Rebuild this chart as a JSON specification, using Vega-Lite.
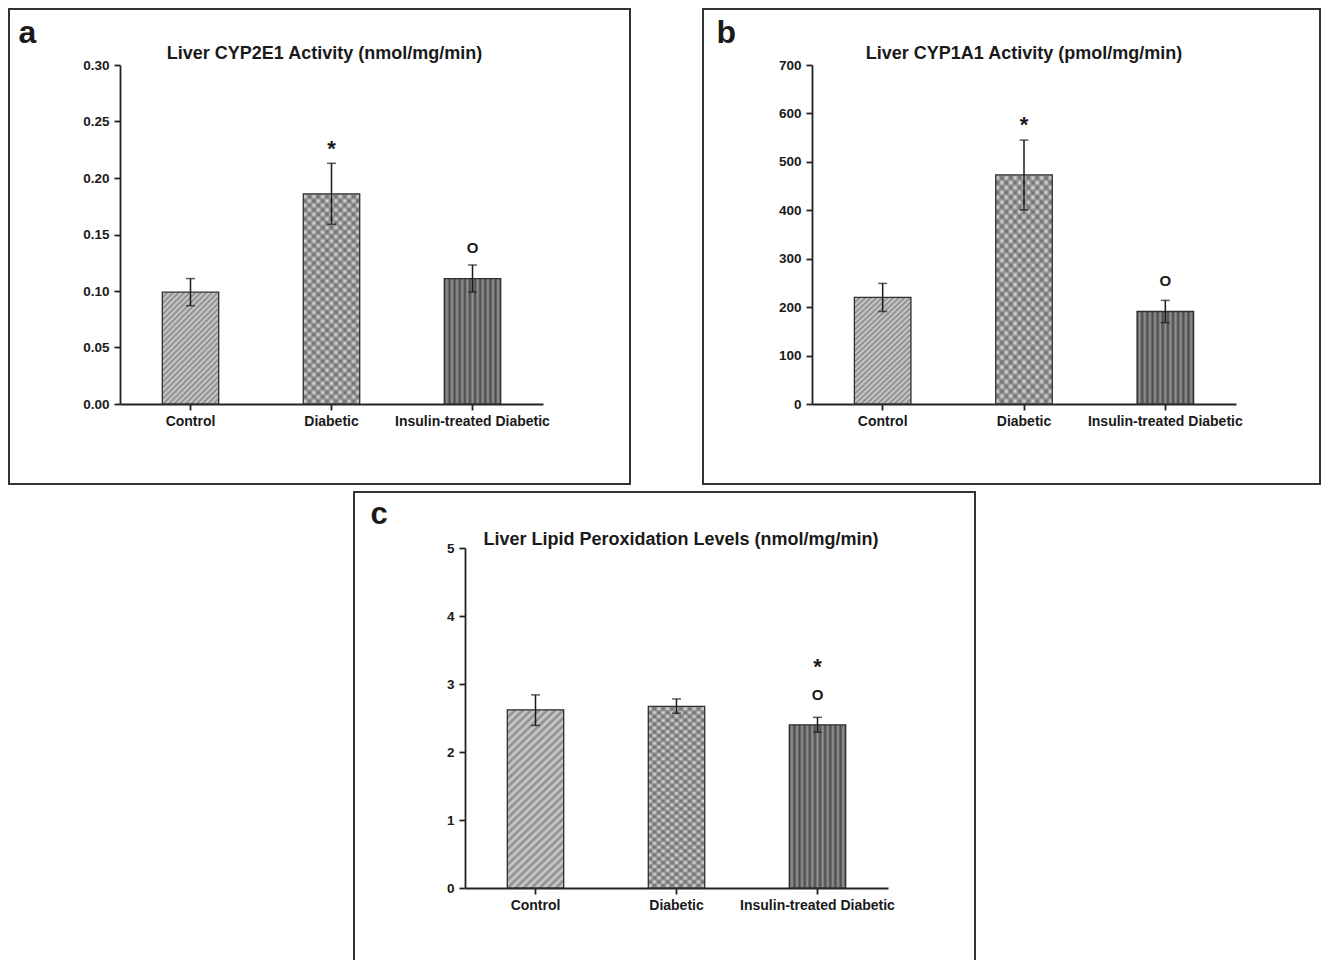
{
  "$schema": "https://vega.github.io/schema/vega-lite/v6.json",
  "background": "white",
  "padding": {"left": 8, "top": 8, "right": 0, "bottom": 0},
  "datasets": {
    "a": [
      {"group": "Control", "mean": 0.099, "lo": 0.087, "hi": 0.111},
      {"group": "Diabetic", "mean": 0.186, "lo": 0.159, "hi": 0.213},
      {"group": "Insulin-treated Diabetic", "mean": 0.111, "lo": 0.099, "hi": 0.123}
    ],
    "a_ann": [
      {"group": "Diabetic", "sym": "*", "pos": 0.228},
      {"group": "Insulin-treated Diabetic", "sym": "O", "pos": 0.139}
    ],
    "b": [
      {"group": "Control", "mean": 220, "lo": 191, "hi": 249},
      {"group": "Diabetic", "mean": 473, "lo": 401, "hi": 545},
      {"group": "Insulin-treated Diabetic", "mean": 191, "lo": 168, "hi": 214}
    ],
    "b_ann": [
      {"group": "Diabetic", "sym": "*", "pos": 583},
      {"group": "Insulin-treated Diabetic", "sym": "O", "pos": 256}
    ],
    "c": [
      {"group": "Control", "mean": 2.62, "lo": 2.39, "hi": 2.84},
      {"group": "Diabetic", "mean": 2.67, "lo": 2.57, "hi": 2.78},
      {"group": "Insulin-treated Diabetic", "mean": 2.40, "lo": 2.29, "hi": 2.51}
    ],
    "c_ann": [
      {"group": "Insulin-treated Diabetic", "sym": "*", "pos": 3.30},
      {"group": "Insulin-treated Diabetic", "sym": "O", "pos": 2.85}
    ]
  },
  "config": {
    "font": "Liberation Sans",
    "view": {"stroke": "#333333", "strokeWidth": 2},
    "axis": {"grid": false, "domainColor": "#222222", "domainWidth": 1.8, "tickColor": "#222222", "tickWidth": 1.8, "tickSize": 6, "labelFont": "Liberation Sans", "labelFontWeight": "bold", "labelColor": "#1a1a1a"},
    "title": {"font": "Liberation Sans", "fontWeight": "bold", "fontSize": 18, "color": "#1a1a1a", "baseline": "middle"},
    "style": {
      "ctrlAB": {"color": {"gradient": "linear", "x1": 0, "y1": 0, "x2": 0.61, "y2": 1.2, "stops": [{"offset":0,"color":"#888888"},{"offset":0.0167,"color":"#d0d0d0"},{"offset":0.0333,"color":"#888888"},{"offset":0.05,"color":"#d0d0d0"},{"offset":0.0667,"color":"#888888"},{"offset":0.0833,"color":"#d0d0d0"},{"offset":0.1,"color":"#888888"},{"offset":0.1167,"color":"#d0d0d0"},{"offset":0.1333,"color":"#888888"},{"offset":0.15,"color":"#d0d0d0"},{"offset":0.1667,"color":"#888888"},{"offset":0.1833,"color":"#d0d0d0"},{"offset":0.2,"color":"#888888"},{"offset":0.2167,"color":"#d0d0d0"},{"offset":0.2333,"color":"#888888"},{"offset":0.25,"color":"#d0d0d0"},{"offset":0.2667,"color":"#888888"},{"offset":0.2833,"color":"#d0d0d0"},{"offset":0.3,"color":"#888888"},{"offset":0.3167,"color":"#d0d0d0"},{"offset":0.3333,"color":"#888888"},{"offset":0.35,"color":"#d0d0d0"},{"offset":0.3667,"color":"#888888"},{"offset":0.3833,"color":"#d0d0d0"},{"offset":0.4,"color":"#888888"},{"offset":0.4167,"color":"#d0d0d0"},{"offset":0.4333,"color":"#888888"},{"offset":0.45,"color":"#d0d0d0"},{"offset":0.4667,"color":"#888888"},{"offset":0.4833,"color":"#d0d0d0"},{"offset":0.5,"color":"#888888"},{"offset":0.5167,"color":"#d0d0d0"},{"offset":0.5333,"color":"#888888"},{"offset":0.55,"color":"#d0d0d0"},{"offset":0.5667,"color":"#888888"},{"offset":0.5833,"color":"#d0d0d0"},{"offset":0.6,"color":"#888888"},{"offset":0.6167,"color":"#d0d0d0"},{"offset":0.6333,"color":"#888888"},{"offset":0.65,"color":"#d0d0d0"},{"offset":0.6667,"color":"#888888"},{"offset":0.6833,"color":"#d0d0d0"},{"offset":0.7,"color":"#888888"},{"offset":0.7167,"color":"#d0d0d0"},{"offset":0.7333,"color":"#888888"},{"offset":0.75,"color":"#d0d0d0"},{"offset":0.7667,"color":"#888888"},{"offset":0.7833,"color":"#d0d0d0"},{"offset":0.8,"color":"#888888"},{"offset":0.8167,"color":"#d0d0d0"},{"offset":0.8333,"color":"#888888"},{"offset":0.85,"color":"#d0d0d0"},{"offset":0.8667,"color":"#888888"},{"offset":0.8833,"color":"#d0d0d0"},{"offset":0.9,"color":"#888888"},{"offset":0.9167,"color":"#d0d0d0"},{"offset":0.9333,"color":"#888888"},{"offset":0.95,"color":"#d0d0d0"},{"offset":0.9667,"color":"#888888"},{"offset":0.9833,"color":"#d0d0d0"},{"offset":1,"color":"#888888"}]}},
      "ctrlC": {"color": {"gradient": "linear", "x1": 0, "y1": 0, "x2": 0.364, "y2": 1.194, "stops": [{"offset":0,"color":"#888888"},{"offset":0.0167,"color":"#d0d0d0"},{"offset":0.0333,"color":"#888888"},{"offset":0.05,"color":"#d0d0d0"},{"offset":0.0667,"color":"#888888"},{"offset":0.0833,"color":"#d0d0d0"},{"offset":0.1,"color":"#888888"},{"offset":0.1167,"color":"#d0d0d0"},{"offset":0.1333,"color":"#888888"},{"offset":0.15,"color":"#d0d0d0"},{"offset":0.1667,"color":"#888888"},{"offset":0.1833,"color":"#d0d0d0"},{"offset":0.2,"color":"#888888"},{"offset":0.2167,"color":"#d0d0d0"},{"offset":0.2333,"color":"#888888"},{"offset":0.25,"color":"#d0d0d0"},{"offset":0.2667,"color":"#888888"},{"offset":0.2833,"color":"#d0d0d0"},{"offset":0.3,"color":"#888888"},{"offset":0.3167,"color":"#d0d0d0"},{"offset":0.3333,"color":"#888888"},{"offset":0.35,"color":"#d0d0d0"},{"offset":0.3667,"color":"#888888"},{"offset":0.3833,"color":"#d0d0d0"},{"offset":0.4,"color":"#888888"},{"offset":0.4167,"color":"#d0d0d0"},{"offset":0.4333,"color":"#888888"},{"offset":0.45,"color":"#d0d0d0"},{"offset":0.4667,"color":"#888888"},{"offset":0.4833,"color":"#d0d0d0"},{"offset":0.5,"color":"#888888"},{"offset":0.5167,"color":"#d0d0d0"},{"offset":0.5333,"color":"#888888"},{"offset":0.55,"color":"#d0d0d0"},{"offset":0.5667,"color":"#888888"},{"offset":0.5833,"color":"#d0d0d0"},{"offset":0.6,"color":"#888888"},{"offset":0.6167,"color":"#d0d0d0"},{"offset":0.6333,"color":"#888888"},{"offset":0.65,"color":"#d0d0d0"},{"offset":0.6667,"color":"#888888"},{"offset":0.6833,"color":"#d0d0d0"},{"offset":0.7,"color":"#888888"},{"offset":0.7167,"color":"#d0d0d0"},{"offset":0.7333,"color":"#888888"},{"offset":0.75,"color":"#d0d0d0"},{"offset":0.7667,"color":"#888888"},{"offset":0.7833,"color":"#d0d0d0"},{"offset":0.8,"color":"#888888"},{"offset":0.8167,"color":"#d0d0d0"},{"offset":0.8333,"color":"#888888"},{"offset":0.85,"color":"#d0d0d0"},{"offset":0.8667,"color":"#888888"},{"offset":0.8833,"color":"#d0d0d0"},{"offset":0.9,"color":"#888888"},{"offset":0.9167,"color":"#d0d0d0"},{"offset":0.9333,"color":"#888888"},{"offset":0.95,"color":"#d0d0d0"},{"offset":0.9667,"color":"#888888"},{"offset":0.9833,"color":"#d0d0d0"},{"offset":1,"color":"#888888"}]}},
      "diabBase": {"color": {"gradient": "linear", "x1": 0, "y1": 0, "x2": 0.321, "y2": 1.184, "stops": [{"offset":0,"color":"#909090"},{"offset":0.0167,"color":"#e4e4e4"},{"offset":0.0333,"color":"#909090"},{"offset":0.05,"color":"#e4e4e4"},{"offset":0.0667,"color":"#909090"},{"offset":0.0833,"color":"#e4e4e4"},{"offset":0.1,"color":"#909090"},{"offset":0.1167,"color":"#e4e4e4"},{"offset":0.1333,"color":"#909090"},{"offset":0.15,"color":"#e4e4e4"},{"offset":0.1667,"color":"#909090"},{"offset":0.1833,"color":"#e4e4e4"},{"offset":0.2,"color":"#909090"},{"offset":0.2167,"color":"#e4e4e4"},{"offset":0.2333,"color":"#909090"},{"offset":0.25,"color":"#e4e4e4"},{"offset":0.2667,"color":"#909090"},{"offset":0.2833,"color":"#e4e4e4"},{"offset":0.3,"color":"#909090"},{"offset":0.3167,"color":"#e4e4e4"},{"offset":0.3333,"color":"#909090"},{"offset":0.35,"color":"#e4e4e4"},{"offset":0.3667,"color":"#909090"},{"offset":0.3833,"color":"#e4e4e4"},{"offset":0.4,"color":"#909090"},{"offset":0.4167,"color":"#e4e4e4"},{"offset":0.4333,"color":"#909090"},{"offset":0.45,"color":"#e4e4e4"},{"offset":0.4667,"color":"#909090"},{"offset":0.4833,"color":"#e4e4e4"},{"offset":0.5,"color":"#909090"},{"offset":0.5167,"color":"#e4e4e4"},{"offset":0.5333,"color":"#909090"},{"offset":0.55,"color":"#e4e4e4"},{"offset":0.5667,"color":"#909090"},{"offset":0.5833,"color":"#e4e4e4"},{"offset":0.6,"color":"#909090"},{"offset":0.6167,"color":"#e4e4e4"},{"offset":0.6333,"color":"#909090"},{"offset":0.65,"color":"#e4e4e4"},{"offset":0.6667,"color":"#909090"},{"offset":0.6833,"color":"#e4e4e4"},{"offset":0.7,"color":"#909090"},{"offset":0.7167,"color":"#e4e4e4"},{"offset":0.7333,"color":"#909090"},{"offset":0.75,"color":"#e4e4e4"},{"offset":0.7667,"color":"#909090"},{"offset":0.7833,"color":"#e4e4e4"},{"offset":0.8,"color":"#909090"},{"offset":0.8167,"color":"#e4e4e4"},{"offset":0.8333,"color":"#909090"},{"offset":0.85,"color":"#e4e4e4"},{"offset":0.8667,"color":"#909090"},{"offset":0.8833,"color":"#e4e4e4"},{"offset":0.9,"color":"#909090"},{"offset":0.9167,"color":"#e4e4e4"},{"offset":0.9333,"color":"#909090"},{"offset":0.95,"color":"#e4e4e4"},{"offset":0.9667,"color":"#909090"},{"offset":0.9833,"color":"#e4e4e4"},{"offset":1,"color":"#909090"}]}},
      "diabOver": {"color": {"gradient": "linear", "x1": 0, "y1": 1, "x2": 0.321, "y2": -0.184, "stops": [{"offset":0,"color":"rgba(70,70,70,0.55)"},{"offset":0.0167,"color":"rgba(70,70,70,0)"},{"offset":0.0333,"color":"rgba(70,70,70,0.55)"},{"offset":0.05,"color":"rgba(70,70,70,0)"},{"offset":0.0667,"color":"rgba(70,70,70,0.55)"},{"offset":0.0833,"color":"rgba(70,70,70,0)"},{"offset":0.1,"color":"rgba(70,70,70,0.55)"},{"offset":0.1167,"color":"rgba(70,70,70,0)"},{"offset":0.1333,"color":"rgba(70,70,70,0.55)"},{"offset":0.15,"color":"rgba(70,70,70,0)"},{"offset":0.1667,"color":"rgba(70,70,70,0.55)"},{"offset":0.1833,"color":"rgba(70,70,70,0)"},{"offset":0.2,"color":"rgba(70,70,70,0.55)"},{"offset":0.2167,"color":"rgba(70,70,70,0)"},{"offset":0.2333,"color":"rgba(70,70,70,0.55)"},{"offset":0.25,"color":"rgba(70,70,70,0)"},{"offset":0.2667,"color":"rgba(70,70,70,0.55)"},{"offset":0.2833,"color":"rgba(70,70,70,0)"},{"offset":0.3,"color":"rgba(70,70,70,0.55)"},{"offset":0.3167,"color":"rgba(70,70,70,0)"},{"offset":0.3333,"color":"rgba(70,70,70,0.55)"},{"offset":0.35,"color":"rgba(70,70,70,0)"},{"offset":0.3667,"color":"rgba(70,70,70,0.55)"},{"offset":0.3833,"color":"rgba(70,70,70,0)"},{"offset":0.4,"color":"rgba(70,70,70,0.55)"},{"offset":0.4167,"color":"rgba(70,70,70,0)"},{"offset":0.4333,"color":"rgba(70,70,70,0.55)"},{"offset":0.45,"color":"rgba(70,70,70,0)"},{"offset":0.4667,"color":"rgba(70,70,70,0.55)"},{"offset":0.4833,"color":"rgba(70,70,70,0)"},{"offset":0.5,"color":"rgba(70,70,70,0.55)"},{"offset":0.5167,"color":"rgba(70,70,70,0)"},{"offset":0.5333,"color":"rgba(70,70,70,0.55)"},{"offset":0.55,"color":"rgba(70,70,70,0)"},{"offset":0.5667,"color":"rgba(70,70,70,0.55)"},{"offset":0.5833,"color":"rgba(70,70,70,0)"},{"offset":0.6,"color":"rgba(70,70,70,0.55)"},{"offset":0.6167,"color":"rgba(70,70,70,0)"},{"offset":0.6333,"color":"rgba(70,70,70,0.55)"},{"offset":0.65,"color":"rgba(70,70,70,0)"},{"offset":0.6667,"color":"rgba(70,70,70,0.55)"},{"offset":0.6833,"color":"rgba(70,70,70,0)"},{"offset":0.7,"color":"rgba(70,70,70,0.55)"},{"offset":0.7167,"color":"rgba(70,70,70,0)"},{"offset":0.7333,"color":"rgba(70,70,70,0.55)"},{"offset":0.75,"color":"rgba(70,70,70,0)"},{"offset":0.7667,"color":"rgba(70,70,70,0.55)"},{"offset":0.7833,"color":"rgba(70,70,70,0)"},{"offset":0.8,"color":"rgba(70,70,70,0.55)"},{"offset":0.8167,"color":"rgba(70,70,70,0)"},{"offset":0.8333,"color":"rgba(70,70,70,0.55)"},{"offset":0.85,"color":"rgba(70,70,70,0)"},{"offset":0.8667,"color":"rgba(70,70,70,0.55)"},{"offset":0.8833,"color":"rgba(70,70,70,0)"},{"offset":0.9,"color":"rgba(70,70,70,0.55)"},{"offset":0.9167,"color":"rgba(70,70,70,0)"},{"offset":0.9333,"color":"rgba(70,70,70,0.55)"},{"offset":0.95,"color":"rgba(70,70,70,0)"},{"offset":0.9667,"color":"rgba(70,70,70,0.55)"},{"offset":0.9833,"color":"rgba(70,70,70,0)"},{"offset":1,"color":"rgba(70,70,70,0.55)"}]}},
      "ins": {"color": {"gradient": "linear", "x1": 0, "y1": 0, "x2": 1, "y2": 0, "stops": [{"offset":0,"color":"#4a4a4a"},{"offset":0.0455,"color":"#939393"},{"offset":0.0909,"color":"#4a4a4a"},{"offset":0.1364,"color":"#939393"},{"offset":0.1818,"color":"#4a4a4a"},{"offset":0.2273,"color":"#939393"},{"offset":0.2727,"color":"#4a4a4a"},{"offset":0.3182,"color":"#939393"},{"offset":0.3636,"color":"#4a4a4a"},{"offset":0.4091,"color":"#939393"},{"offset":0.4545,"color":"#4a4a4a"},{"offset":0.5,"color":"#939393"},{"offset":0.5455,"color":"#4a4a4a"},{"offset":0.5909,"color":"#939393"},{"offset":0.6364,"color":"#4a4a4a"},{"offset":0.6818,"color":"#939393"},{"offset":0.7273,"color":"#4a4a4a"},{"offset":0.7727,"color":"#939393"},{"offset":0.8182,"color":"#4a4a4a"},{"offset":0.8636,"color":"#939393"},{"offset":0.9091,"color":"#4a4a4a"},{"offset":0.9545,"color":"#939393"},{"offset":1,"color":"#4a4a4a"}]}}
    }
  },
  "spacing": 6,
  "center": true,
  "vconcat": [
    {
      "spacing": 71,
      "hconcat": [
        {
          "width": 621, "height": 475,
          "title": {"text": "Liver CYP2E1 Activity (nmol/mg/min)", "offset": -54, "dx": 5},
          "data": {"name": "a"},
          "encoding": {
            "x": {"field": "group", "type": "nominal", "sort": null,
              "scale": {"domain": ["Control", "Diabetic", "Insulin-treated Diabetic"], "range": [111, 534], "paddingInner": 0, "paddingOuter": 0},
              "axis": {"title": null, "offset": -80, "labelAngle": 0, "labelFontSize": 14, "labelPadding": 4}}
          },
          "layer": [
            {"transform": [{"filter": "datum.group === 'Control'"}],
             "mark": {"type": "bar", "style": "ctrlAB", "stroke": "#2e2e2e", "strokeWidth": 1.3, "width": {"band": 0.4}},
             "encoding": {"y": {"field": "mean", "type": "quantitative", "scale": {"domain": [0, 0.3], "range": [395, 56], "nice": false, "zero": true},
               "axis": {"title": "a", "titleAngle": 0, "titleAlign": "left", "titleBaseline": "alphabetic", "titleX": -102, "titleY": 33, "titleFontSize": 32, "titleFontWeight": "bold", "titleColor": "#1a1a1a", "offset": -111, "values": [0, 0.05, 0.1, 0.15, 0.2, 0.25, 0.3], "format": ".2f", "labelFontSize": 13.5, "labelPadding": 5, "labelFlush": false}}}},
            {"transform": [{"filter": "datum.group === 'Diabetic'"}],
             "mark": {"type": "bar", "style": "diabBase", "stroke": "#2e2e2e", "strokeWidth": 1.3, "width": {"band": 0.4}},
             "encoding": {"y": {"field": "mean", "type": "quantitative", "scale": {"domain": [0, 0.3], "range": [395, 56], "nice": false, "zero": true}}}},
            {"transform": [{"filter": "datum.group === 'Diabetic'"}],
             "mark": {"type": "bar", "style": "diabOver", "strokeWidth": 0, "width": {"band": 0.4}},
             "encoding": {"y": {"field": "mean", "type": "quantitative", "scale": {"domain": [0, 0.3], "range": [395, 56], "nice": false, "zero": true}}}},
            {"transform": [{"filter": "datum.group === 'Insulin-treated Diabetic'"}],
             "mark": {"type": "bar", "style": "ins", "stroke": "#2e2e2e", "strokeWidth": 1.3, "width": {"band": 0.4}},
             "encoding": {"y": {"field": "mean", "type": "quantitative", "scale": {"domain": [0, 0.3], "range": [395, 56], "nice": false, "zero": true}}}},
            {"mark": {"type": "rule", "stroke": "#1a1a1a", "strokeWidth": 1.5},
             "encoding": {"y": {"field": "lo", "type": "quantitative", "scale": {"domain": [0, 0.3], "range": [395, 56], "nice": false, "zero": true}}, "y2": {"field": "hi"}}},
            {"mark": {"type": "tick", "color": "#1a1a1a", "thickness": 1.5, "size": 9},
             "encoding": {"y": {"field": "lo", "type": "quantitative", "scale": {"domain": [0, 0.3], "range": [395, 56], "nice": false, "zero": true}}}},
            {"mark": {"type": "tick", "color": "#1a1a1a", "thickness": 1.5, "size": 9},
             "encoding": {"y": {"field": "hi", "type": "quantitative", "scale": {"domain": [0, 0.3], "range": [395, 56], "nice": false, "zero": true}}}},
            {"data": {"name": "a_ann"}, "transform": [{"filter": "datum.sym === '*'"}],
             "mark": {"type": "text", "fontSize": 22, "fontWeight": "bold", "baseline": "middle", "dy": 3, "color": "#1a1a1a"},
             "encoding": {"y": {"field": "pos", "type": "quantitative", "scale": {"domain": [0, 0.3], "range": [395, 56], "nice": false, "zero": true}}, "text": {"field": "sym"}}},
            {"data": {"name": "a_ann"}, "transform": [{"filter": "datum.sym === 'O'"}],
             "mark": {"type": "text", "fontSize": 15, "fontWeight": "bold", "baseline": "middle", "dy": 1, "color": "#1a1a1a"},
             "encoding": {"y": {"field": "pos", "type": "quantitative", "scale": {"domain": [0, 0.3], "range": [395, 56], "nice": false, "zero": true}}, "text": {"field": "sym"}}}
          ]
        },
        {
          "width": 617, "height": 475,
          "title": {"text": "Liver CYP1A1 Activity (pmol/mg/min)", "offset": -53.5, "dx": 12.5},
          "data": {"name": "b"},
          "encoding": {
            "x": {"field": "group", "type": "nominal", "sort": null,
              "scale": {"domain": ["Control", "Diabetic", "Insulin-treated Diabetic"], "range": [109, 533], "paddingInner": 0, "paddingOuter": 0},
              "axis": {"title": null, "offset": -80, "labelAngle": 0, "labelFontSize": 14, "labelPadding": 4}}
          },
          "layer": [
            {"transform": [{"filter": "datum.group === 'Control'"}],
             "mark": {"type": "bar", "style": "ctrlAB", "stroke": "#2e2e2e", "strokeWidth": 1.3, "width": {"band": 0.4}},
             "encoding": {"y": {"field": "mean", "type": "quantitative", "scale": {"domain": [0, 700], "range": [395, 56], "nice": false, "zero": true},
               "axis": {"title": "b", "titleAngle": 0, "titleAlign": "left", "titleBaseline": "alphabetic", "titleX": -96, "titleY": 33, "titleFontSize": 32, "titleFontWeight": "bold", "titleColor": "#1a1a1a", "offset": -109, "values": [0, 100, 200, 300, 400, 500, 600, 700], "format": "d", "labelFontSize": 13.5, "labelPadding": 5, "labelFlush": false}}}},
            {"transform": [{"filter": "datum.group === 'Diabetic'"}],
             "mark": {"type": "bar", "style": "diabBase", "stroke": "#2e2e2e", "strokeWidth": 1.3, "width": {"band": 0.4}},
             "encoding": {"y": {"field": "mean", "type": "quantitative", "scale": {"domain": [0, 700], "range": [395, 56], "nice": false, "zero": true}}}},
            {"transform": [{"filter": "datum.group === 'Diabetic'"}],
             "mark": {"type": "bar", "style": "diabOver", "strokeWidth": 0, "width": {"band": 0.4}},
             "encoding": {"y": {"field": "mean", "type": "quantitative", "scale": {"domain": [0, 700], "range": [395, 56], "nice": false, "zero": true}}}},
            {"transform": [{"filter": "datum.group === 'Insulin-treated Diabetic'"}],
             "mark": {"type": "bar", "style": "ins", "stroke": "#2e2e2e", "strokeWidth": 1.3, "width": {"band": 0.4}},
             "encoding": {"y": {"field": "mean", "type": "quantitative", "scale": {"domain": [0, 700], "range": [395, 56], "nice": false, "zero": true}}}},
            {"mark": {"type": "rule", "stroke": "#1a1a1a", "strokeWidth": 1.5},
             "encoding": {"y": {"field": "lo", "type": "quantitative", "scale": {"domain": [0, 700], "range": [395, 56], "nice": false, "zero": true}}, "y2": {"field": "hi"}}},
            {"mark": {"type": "tick", "color": "#1a1a1a", "thickness": 1.5, "size": 9},
             "encoding": {"y": {"field": "lo", "type": "quantitative", "scale": {"domain": [0, 700], "range": [395, 56], "nice": false, "zero": true}}}},
            {"mark": {"type": "tick", "color": "#1a1a1a", "thickness": 1.5, "size": 9},
             "encoding": {"y": {"field": "hi", "type": "quantitative", "scale": {"domain": [0, 700], "range": [395, 56], "nice": false, "zero": true}}}},
            {"data": {"name": "b_ann"}, "transform": [{"filter": "datum.sym === '*'"}],
             "mark": {"type": "text", "fontSize": 22, "fontWeight": "bold", "baseline": "middle", "dy": 3, "color": "#1a1a1a"},
             "encoding": {"y": {"field": "pos", "type": "quantitative", "scale": {"domain": [0, 700], "range": [395, 56], "nice": false, "zero": true}}, "text": {"field": "sym"}}},
            {"data": {"name": "b_ann"}, "transform": [{"filter": "datum.sym === 'O'"}],
             "mark": {"type": "text", "fontSize": 15, "fontWeight": "bold", "baseline": "middle", "dy": 1, "color": "#1a1a1a"},
             "encoding": {"y": {"field": "pos", "type": "quantitative", "scale": {"domain": [0, 700], "range": [395, 56], "nice": false, "zero": true}}, "text": {"field": "sym"}}}
          ]
        }
      ]
    },
    {
      "width": 621, "height": 475,
      "title": {"text": "Liver Lipid Peroxidation Levels (nmol/mg/min)", "offset": -57, "dx": 16.5},
      "data": {"name": "c"},
      "encoding": {
        "x": {"field": "group", "type": "nominal", "sort": null,
          "scale": {"domain": ["Control", "Diabetic", "Insulin-treated Diabetic"], "range": [111, 534], "paddingInner": 0, "paddingOuter": 0},
          "axis": {"title": null, "offset": -79, "labelAngle": 0, "labelFontSize": 14, "labelPadding": 4}}
      },
      "layer": [
        {"transform": [{"filter": "datum.group === 'Control'"}],
         "mark": {"type": "bar", "style": "ctrlC", "stroke": "#2e2e2e", "strokeWidth": 1.3, "width": {"band": 0.4}},
         "encoding": {"y": {"field": "mean", "type": "quantitative", "scale": {"domain": [0, 5], "range": [396, 56], "nice": false, "zero": true},
           "axis": {"title": "c", "titleAngle": 0, "titleAlign": "left", "titleBaseline": "alphabetic", "titleX": -95, "titleY": 31, "titleFontSize": 31, "titleFontWeight": "bold", "titleColor": "#1a1a1a", "offset": -111, "values": [0, 1, 2, 3, 4, 5], "format": "d", "labelFontSize": 13.5, "labelPadding": 5, "labelFlush": false}}}},
        {"transform": [{"filter": "datum.group === 'Diabetic'"}],
         "mark": {"type": "bar", "style": "diabBase", "stroke": "#2e2e2e", "strokeWidth": 1.3, "width": {"band": 0.4}},
         "encoding": {"y": {"field": "mean", "type": "quantitative", "scale": {"domain": [0, 5], "range": [396, 56], "nice": false, "zero": true}}}},
        {"transform": [{"filter": "datum.group === 'Diabetic'"}],
         "mark": {"type": "bar", "style": "diabOver", "strokeWidth": 0, "width": {"band": 0.4}},
         "encoding": {"y": {"field": "mean", "type": "quantitative", "scale": {"domain": [0, 5], "range": [396, 56], "nice": false, "zero": true}}}},
        {"transform": [{"filter": "datum.group === 'Insulin-treated Diabetic'"}],
         "mark": {"type": "bar", "style": "ins", "stroke": "#2e2e2e", "strokeWidth": 1.3, "width": {"band": 0.4}},
         "encoding": {"y": {"field": "mean", "type": "quantitative", "scale": {"domain": [0, 5], "range": [396, 56], "nice": false, "zero": true}}}},
        {"mark": {"type": "rule", "stroke": "#1a1a1a", "strokeWidth": 1.5},
         "encoding": {"y": {"field": "lo", "type": "quantitative", "scale": {"domain": [0, 5], "range": [396, 56], "nice": false, "zero": true}}, "y2": {"field": "hi"}}},
        {"mark": {"type": "tick", "color": "#1a1a1a", "thickness": 1.5, "size": 9},
         "encoding": {"y": {"field": "lo", "type": "quantitative", "scale": {"domain": [0, 5], "range": [396, 56], "nice": false, "zero": true}}}},
        {"mark": {"type": "tick", "color": "#1a1a1a", "thickness": 1.5, "size": 9},
         "encoding": {"y": {"field": "hi", "type": "quantitative", "scale": {"domain": [0, 5], "range": [396, 56], "nice": false, "zero": true}}}},
        {"data": {"name": "c_ann"}, "transform": [{"filter": "datum.sym === '*'"}],
         "mark": {"type": "text", "fontSize": 22, "fontWeight": "bold", "baseline": "middle", "dy": 3, "color": "#1a1a1a"},
         "encoding": {"y": {"field": "pos", "type": "quantitative", "scale": {"domain": [0, 5], "range": [396, 56], "nice": false, "zero": true}}, "text": {"field": "sym"}}},
        {"data": {"name": "c_ann"}, "transform": [{"filter": "datum.sym === 'O'"}],
         "mark": {"type": "text", "fontSize": 15, "fontWeight": "bold", "baseline": "middle", "dy": 1, "color": "#1a1a1a"},
         "encoding": {"y": {"field": "pos", "type": "quantitative", "scale": {"domain": [0, 5], "range": [396, 56], "nice": false, "zero": true}}, "text": {"field": "sym"}}}
      ]
    }
  ]
}
